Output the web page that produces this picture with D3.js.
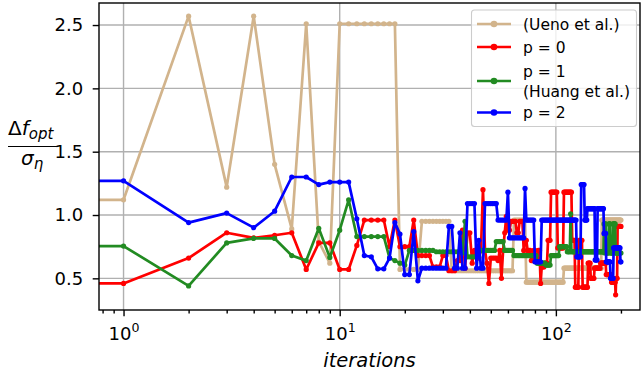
<!DOCTYPE html>
<html>
<head>
<meta charset="utf-8">
<script src="https://cdn.jsdelivr.net/npm/d3@7/dist/d3.min.js"></script>
<style>
  body { margin: 0; background: #fff; }
  text { font-family: "DejaVu Sans", sans-serif; fill: #000; }
</style>
</head>
<body>
<svg id="chart" width="643" height="378"></svg>
<script>
// Values. Each entry is [first iteration, value];
// the value holds until the iteration of the next entry.
const lastIteration = 200;
const uenoRuns = [[1,1.12],[2,2.57],[3,1.22],[4,2.57],[5,1.40],[6,0.89],[7,2.51],[8,0.79],[9,0.62],
  [10,2.51],[19,0.57],[24,0.95],[33,0.56],[64,0.96],[73,0.47],[109,0.58],[163,0.96]];
const p0Runs = [[1,0.46],[2,0.66],[3,0.86],[4,0.82],[5,0.84],[6,0.86],[7,0.57],[8,0.78],[10,0.57],
  [12,0.76],[13,0.96],[17,0.75],[18,0.96],[19,0.75],[22,0.96],[23,0.68],[27,0.59],[30,0.68],[32,0.56],
  [35,0.64],[37,0.88],[38,0.58],[39,0.86],[41,0.62],[42,0.72],[44,0.66],[45,0.72],[46,1.20],[47,0.72],
  [48,0.62],[49,0.46],[50,0.66],[54,0.64],[55,0.72],[56,0.50],[57,0.72],[58,0.86],[59,0.99],[60,0.88],
  [62,0.95],[66,0.86],[68,0.95],[71,0.72],[72,0.80],[74,0.72],[77,0.64],[79,0.72],[81,0.64],[83,0.72],
  [85,0.46],[86,0.59],[89,0.62],[92,0.80],[95,1.18],[102,0.74],[109,1.18],[119,0.80],[123,0.43],
  [128,0.80],[133,0.43],[141,0.62],[145,0.50],[151,0.58],[161,0.62],[171,0.53],[181,0.47],[189,0.37],
  [190,0.50],[193,0.91]];
const p1Runs = [[1,0.755],[2,0.44],[3,0.78],[4,0.815],[6,0.68],[7,0.64],[8,0.895],[9,0.665],[10,0.88],
  [11,1.12],[12,0.83],[17,0.66],[18,0.64],[19,0.62],[20,0.605],[21,0.72],[28,0.71],[37,0.70],[38,0.95],
  [39,0.67],[45,0.72],[53,0.79],[58,0.72],[64,0.68],[82,0.62],[90,0.605],[95,0.68],[104,0.75],[113,0.71],
  [117,1.01],[118,0.71],[167,0.93],[168,0.70],[169,0.93],[171,0.70],[176,0.93],[179,0.70],[184,0.93],
  [189,0.70]];
const p2Runs = [[1,1.27],[2,0.94],[3,1.015],[4,0.90],[5,1.03],[6,1.30],[8,1.24],[9,1.26],[12,0.97],
  [13,0.68],[14,0.67],[15,0.575],[17,0.66],[18,0.94],[19,0.85],[20,0.53],[22,0.87],[23,0.48],[24,0.58],
  [32,0.91],[34,0.58],[36,0.86],[37,0.58],[39,1.09],[43,0.58],[44,0.80],[45,0.58],[47,1.09],[54,0.96],
  [60,1.18],[61,0.82],[72,1.21],[73,0.96],[80,0.63],[86,0.96],[125,0.67],[131,1.24],[136,0.96],
  [140,1.05],[152,0.645],[156,1.05],[167,0.855],[171,0.63],[179,0.50],[185,0.74],[199,0.63]];
const seriesLabels = [["(Ueno et al.)"], ["p = 0"], ["p = 1", "(Huang et al.)"], ["p = 2"]];
const yTickValues = [0.5, 1.0, 1.5, 2.0, 2.5];
const xMajorTicks = [1, 10, 100];
const xMinorTicks = [0.8, 0.9, 2, 3, 4, 5, 6, 7, 8, 9, 20, 30, 40, 50, 60, 70, 80, 90, 200];

const colors = ["#d2b48c", "#ff0000", "#228b22", "#0000ff"];

// one point per iteration; iteration 0 sits off the left edge like matplotlib's log clip
function expand(runs) {
  const pts = [{ n: 0, v: runs[0][1] }];
  runs.forEach((r, i) => {
    const end = i + 1 < runs.length ? runs[i + 1][0] - 1 : lastIteration;
    for (let n = r[0]; n <= end; n++) pts.push({ n: n, v: r[1] });
  });
  return pts;
}
const series = [uenoRuns, p0Runs, p1Runs, p2Runs].map(expand);

const box = { left: 99, right: 640, top: 3, bottom: 310 };
const x = d3.scaleLog().domain([0.77, 245]).range([box.left, box.right]);
const y = d3.scaleLinear().domain([0.25, 2.674]).range([box.bottom, box.top]);

const svg = d3.select("#chart");

svg.append("defs").append("clipPath").attr("id", "plotclip")
  .append("rect")
  .attr("x", box.left).attr("y", box.top)
  .attr("width", box.right - box.left).attr("height", box.bottom - box.top);

// grid
const grid = svg.append("g").attr("stroke", "#b0b0b0").attr("stroke-width", 1.4);
grid.selectAll(".gx").data(xMajorTicks).join("line")
  .attr("x1", d => x(d)).attr("x2", d => x(d))
  .attr("y1", box.top).attr("y2", box.bottom);
grid.selectAll(".gy").data(yTickValues).join("line")
  .attr("x1", box.left).attr("x2", box.right)
  .attr("y1", d => y(d)).attr("y2", d => y(d));

// series lines + markers
const px = d => d.n > 0 ? x(d.n) : box.left - 30;
const line = d3.line().x(px).y(d => y(d.v));
const plot = svg.append("g").attr("clip-path", "url(#plotclip)");
series.forEach((pts, i) => {
  plot.append("path")
    .datum(pts)
    .attr("fill", "none")
    .attr("stroke", colors[i])
    .attr("stroke-width", 2.7)
    .attr("stroke-linejoin", "round")
    .attr("d", line);
  plot.append("g").selectAll("circle")
    .data(pts.filter(d => d.n > 0))
    .join("circle")
    .attr("cx", d => x(d.n))
    .attr("cy", d => y(d.v))
    .attr("r", 2.6)
    .attr("fill", colors[i]);
});

// axes
const xAxis = svg.append("g").attr("transform", `translate(0,${box.bottom})`)
  .call(d3.axisBottom(x).tickValues(xMajorTicks).tickSize(6.3).tickPadding(6).tickFormat(() => ""));
svg.append("g").attr("transform", `translate(0,${box.bottom})`)
  .call(d3.axisBottom(x).tickValues(xMinorTicks).tickSize(3.6).tickFormat(() => ""))
  .call(g => g.select(".domain").remove());
xAxis.select(".domain").remove();
xAxis.selectAll(".tick line").attr("stroke-width", 1.4);
xAxis.selectAll(".tick text").remove();
xAxis.selectAll(".tick").append("text")
  .attr("y", 30)
  .attr("text-anchor", "middle")
  .style("font-size", "18px")
  .each(function (d) {
    const t = d3.select(this);
    t.append("tspan").text("10");
    t.append("tspan").attr("dy", -8.5).style("font-size", "12.6px").text(Math.round(Math.log10(d)));
  });
svg.selectAll(".tick line").attr("stroke-width", 1.4);

const yAxis = svg.append("g").attr("transform", `translate(${box.left},0)`)
  .call(d3.axisLeft(y).tickValues(yTickValues).tickSize(6.3).tickPadding(9.5).tickFormat(d3.format(".1f")));
yAxis.select(".domain").remove();
yAxis.selectAll(".tick line").attr("stroke-width", 1.4);
yAxis.selectAll(".tick text").style("font-size", "18px").attr("font-family", null);
xAxis.attr("font-family", null);
yAxis.attr("font-family", null);

// spines
svg.append("rect")
  .attr("x", box.left).attr("y", box.top)
  .attr("width", box.right - box.left).attr("height", box.bottom - box.top)
  .attr("fill", "none").attr("stroke", "#000").attr("stroke-width", 1.4);

// axis labels
svg.append("text")
  .attr("x", (box.left + box.right) / 2).attr("y", 367)
  .attr("text-anchor", "middle")
  .style("font-size", "19.5px").style("font-style", "italic")
  .text("iterations");

const num = svg.append("text").attr("x", 8).attr("y", 135).style("font-size", "20px");
num.append("tspan").text("Δ");
num.append("tspan").style("font-style", "italic").text("f");
num.append("tspan").attr("dy", 3.5).style("font-style", "italic").style("font-size", "15px").text("opt");
svg.append("line")
  .attr("x1", 8).attr("x2", 58).attr("y1", 146.5).attr("y2", 146.5)
  .attr("stroke", "#000").attr("stroke-width", 1.1);
const den = svg.append("text").attr("x", 21).attr("y", 165).style("font-size", "20px");
den.append("tspan").style("font-style", "italic").text("σ");
den.append("tspan").attr("dy", 3.5).style("font-style", "italic").style("font-size", "15px").text("η");

// legend
const legend = svg.append("g");
legend.append("rect")
  .attr("x", 471.5).attr("y", 10).attr("width", 165).attr("height", 116.5)
  .attr("rx", 3).attr("fill", "#fff").attr("fill-opacity", 0.8)
  .attr("stroke", "#cccccc").attr("stroke-width", 1.1);
const rowY = [24, 47, 81, 112.5];
seriesLabels.forEach((lab, i) => {
  const g = legend.append("g").attr("transform", `translate(0,${rowY[i]})`);
  g.append("line").attr("x1", 477).attr("x2", 511).attr("stroke", colors[i]).attr("stroke-width", 2.7);
  g.append("circle").attr("cx", 494).attr("r", 3.3).attr("fill", colors[i]);
  const t = g.append("text").attr("x", 523).style("font-size", "15.5px");
  const off = -(lab.length - 1) * 10;
  lab.forEach((s, k) => {
    t.append("tspan").attr("x", 523).attr("y", off + k * 20 + 5.5).text(s);
  });
});
</script>
</body>
</html>
